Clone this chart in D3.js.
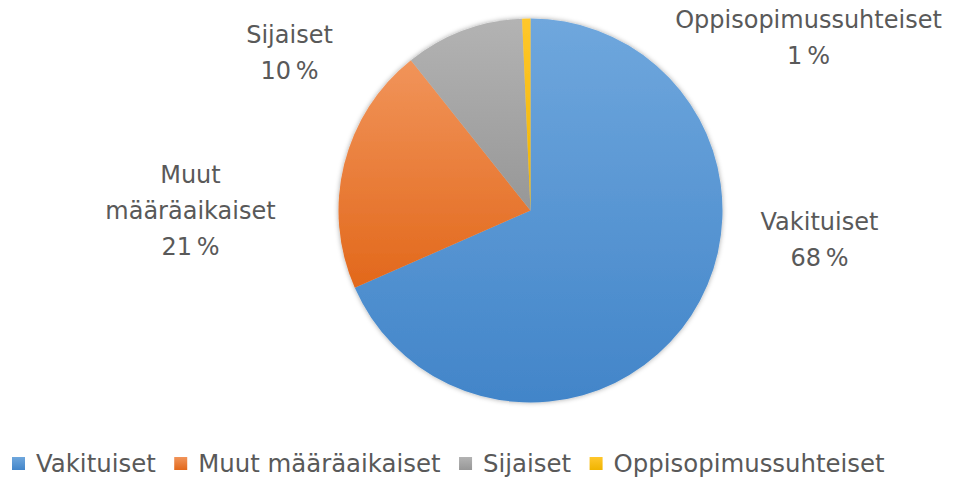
<!DOCTYPE html>
<html>
<head>
<meta charset="utf-8">
<script src="https://cdn.jsdelivr.net/npm/d3@7"></script>
<style>
  body { margin: 0; background: #fff; }
  svg { display: block; }
  text { font-family: "DejaVu Sans", sans-serif; fill: #595959; }
</style>
</head>
<body>
<svg id="chart"></svg>
<script>
let width = 953;
let height = 483;

// data (share of staff, %)
let categories = ["Vakituiset", "Muut määräaikaiset", "Sijaiset", "Oppisopimussuhteiset"];
let values = [68.4, 20.9, 10.0, 0.7];
// label text lines (the data label shows the name broken onto lines + rounded %)
let labelLines = [["Vakituiset"], ["Muut", "määräaikaiset"], ["Sijaiset"], ["Oppisopimussuhteiset"]];

// styles
let colorsTop = ["#6FA7DD", "#F1945A", "#B3B3B3", "#FFC72C"];
let colorsBottom = ["#4285C9", "#E2681B", "#979797", "#F0B400"];

// pie layout
let cx = 530.5;
let cy = 210.5;
let radius = 192;
let fontSize = 24;
let legendFontSize = 24.4;
let lineHeight = 36;

// where Excel put each data label (relative to pie centre, in radius units)
let labelSpots = {
    "Vakituiset": [1.505, 0.104],
    "Muut määräaikaiset": [-1.771, -0.141],
    "Sijaiset": [-1.255, -0.870],
    "Oppisopimussuhteiset": [1.448, -0.948]
};

let svg = d3.select("#chart").attr("width", width).attr("height", height);

let defs = svg.append("defs");
categories.forEach(function (c, i) {
    let g = defs.append("linearGradient")
        .attr("id", "grad" + i)
        .attr("x1", 0).attr("y1", 0).attr("x2", 0).attr("y2", 1);
    g.append("stop").attr("offset", "0%").attr("stop-color", colorsTop[i]);
    g.append("stop").attr("offset", "100%").attr("stop-color", colorsBottom[i]);
});

let shadow = defs.append("filter").attr("id", "shadow")
    .attr("x", "-10%").attr("y", "-10%").attr("width", "120%").attr("height", "120%");
shadow.append("feDropShadow")
    .attr("dx", 0).attr("dy", 0).attr("stdDeviation", 2.5)
    .attr("flood-color", "#000").attr("flood-opacity", 0.35);

let data = categories.map((c, i) => ({ name: c, value: values[i], idx: i }));

let pie = d3.pie().sort(null).value(d => d.value);
let arc = d3.arc().innerRadius(0).outerRadius(radius);

let pieG = svg.append("g")
    .attr("transform", "translate(" + cx + "," + cy + ")")
    .attr("filter", "url(#shadow)");

pieG.selectAll("path")
    .data(pie(data))
    .enter()
    .append("path")
    .attr("d", arc)
    .attr("fill", d => "url(#grad" + d.data.idx + ")");

// data labels
let total = d3.sum(values);
let labels = svg.append("g").attr("class", "labels");
data.forEach(function (d) {
    let spot = labelSpots[d.name];
    let lines = labelLines[d.idx].concat([Math.round(d.value / total * 100) + "\u2009%"]);
    let t = labels.append("text")
        .attr("text-anchor", "middle")
        .attr("font-size", fontSize)
        .attr("x", cx + spot[0] * radius)
        .attr("y", cy + spot[1] * radius);
    lines.forEach(function (line, j) {
        t.append("tspan")
            .attr("x", cx + spot[0] * radius)
            .attr("dy", j === 0 ? 0 : lineHeight)
            .text(line);
    });
});

// legend
let legend = svg.append("g").attr("class", "legend");
let lx = 12;
let legendBaseline = 472;
let box = 13;
data.forEach(function (d) {
    legend.append("rect")
        .attr("x", lx).attr("y", legendBaseline - 15)
        .attr("width", box).attr("height", box)
        .attr("fill", "url(#grad" + d.idx + ")");
    let t = legend.append("text")
        .attr("x", lx + box + 11)
        .attr("y", legendBaseline)
        .attr("font-size", legendFontSize)
        .text(d.name);
    lx += box + 11 + t.node().getComputedTextLength() + 18.5;
});
</script>
</body>
</html>
